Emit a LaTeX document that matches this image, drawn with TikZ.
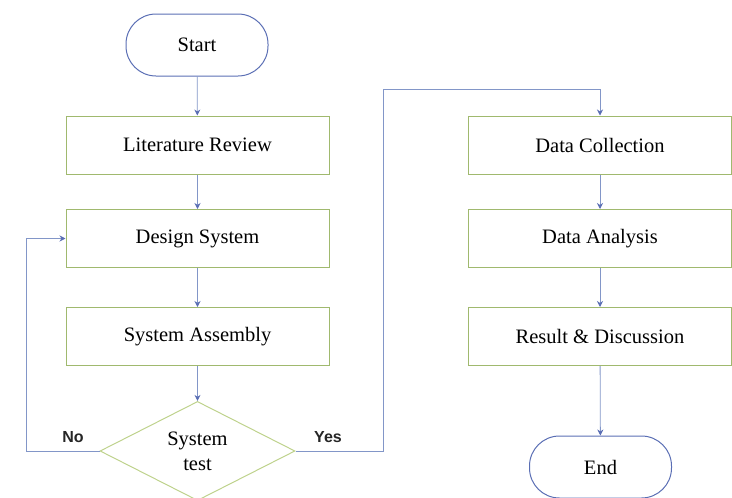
\documentclass[tikz,border=0pt]{standalone}
\usepackage{fontspec}
\setmainfont{Liberation Serif}
\newfontfamily\lsans{Liberation Sans}
\usetikzlibrary{shapes.geometric,arrows.meta}
\definecolor{boxgreen}{RGB}{160,185,110}
\definecolor{diagreen}{RGB}{190,210,140}
\definecolor{termblue}{RGB}{90,110,180}
\definecolor{arrblue}{RGB}{130,150,200}
\tikzset{
  stepbox/.style={draw=boxgreen, line width=1pt, minimum width=263pt, minimum height=58pt, inner sep=0pt, font=\fontsize{20.5}{24}\selectfont},
  term/.style={draw=termblue, line width=1pt, rounded corners=30pt, minimum width=142pt, minimum height=62pt, inner sep=0pt, font=\fontsize{20.5}{24}\selectfont},
  decide/.style={diamond, draw=diagreen, line width=1pt, minimum width=195pt, minimum height=93pt, inner sep=0pt, align=center, font=\fontsize{20.5}{25}\selectfont},
  flow/.style={draw=arrblue, line width=0.8pt, -{Stealth[length=6pt,width=6pt,fill=termblue,color=termblue]}},
  lab/.style={font=\lsans\bfseries\fontsize{16}{18}\selectfont, text=black!85}
}
\begin{document}
\begin{tikzpicture}[x=1pt,y=-1pt]
\useasboundingbox (0,0) rectangle (732,498);
\node[term] (start) at (197,45) {Start};
\node[stepbox] (lit) at (197.5,145) {Literature Review};
\node[stepbox] (des) at (197.5,238.5) {Design System};
\node[stepbox] (asm) at (197.5,336.5) {System Assembly};
\node[decide] (test) at (197.5,451) {System\\test};
\node[stepbox] (col) at (600,145) {Data Collection};
\node[stepbox] (ana) at (600,238.5) {Data Analysis};
\node[stepbox] (res) at (600,336.5) {Result \& Discussion};
\node[term] (end) at (600.5,467) {End};
\coordinate (noA) at (26,451);
\coordinate (noB) at (26,238.5);
\coordinate (yesA) at (383,451);
\coordinate (yesB) at (383,89);
\coordinate (yesC) at (600,89);
\node[lab] (nolab) at (73,437) {No};
\node[lab] (yeslab) at (328,437) {Yes};
\draw[flow] (start) -- (lit);
\draw[flow] (lit) -- (des);
\draw[flow] (des) -- (asm);
\draw[flow] (asm) -- (test);
\draw[flow] (test.west) -- (noA) -- (noB) -- (des.west);
\draw[flow] (test.east) -- (yesA) -- (yesB) -- (yesC) -- (col.north);
\draw[flow] (col) -- (ana);
\draw[flow] (ana) -- (res);
\draw[flow] (res) -- (end);
\end{tikzpicture}
\end{document}
